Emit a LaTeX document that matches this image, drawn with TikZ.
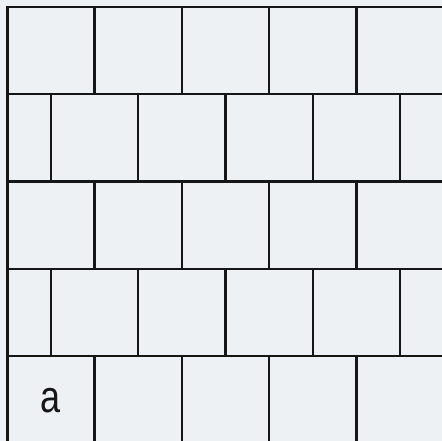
\documentclass[tikz,border=0pt]{standalone}
\usepackage{fontspec}
\setmainfont{Liberation Sans}
\definecolor{bgc}{RGB}{237,241,244}
\definecolor{linec}{RGB}{22,22,22}
\tikzset{brick/.style={draw=linec, line width=2.4pt, fill=bgc}}
\begin{document}
\begin{tikzpicture}[x=1pt,y=-1pt]
\useasboundingbox (0,0) rectangle (442,441);
\clip (0,0) rectangle (442,441);
\fill[bgc] (0,0) rectangle (442,441);
\def\bw{87.3}
\foreach \r in {0,...,4}{
  \pgfmathsetmacro{\yt}{7+\r*\bw}
  \pgfmathsetmacro{\yb}{\yt+\bw}
  \pgfmathtruncatemacro{\odd}{mod(\r,2)}
  \ifnum\odd=0
    \foreach \k in {0,...,4}{
      \pgfmathsetmacro{\xl}{7.3+\k*\bw}
      \pgfmathsetmacro{\xr}{\xl+\bw}
      \draw[brick] (\xl,\yt) rectangle (\xr,\yb);
    }
  \else
    \foreach \k in {0,...,5}{
      \pgfmathsetmacro{\xl}{max(7.3, 7.3+(\k-0.5)*\bw)}
      \pgfmathsetmacro{\xr}{7.3+(\k+0.5)*\bw}
      \draw[brick] (\xl,\yt) rectangle (\xr,\yb);
    }
  \fi
}
\node[font=\fontsize{45}{45}\selectfont, xscale=0.8, inner sep=0pt, text=linec] (lbl) at (50.8,401) {a};
\end{tikzpicture}
\end{document}
